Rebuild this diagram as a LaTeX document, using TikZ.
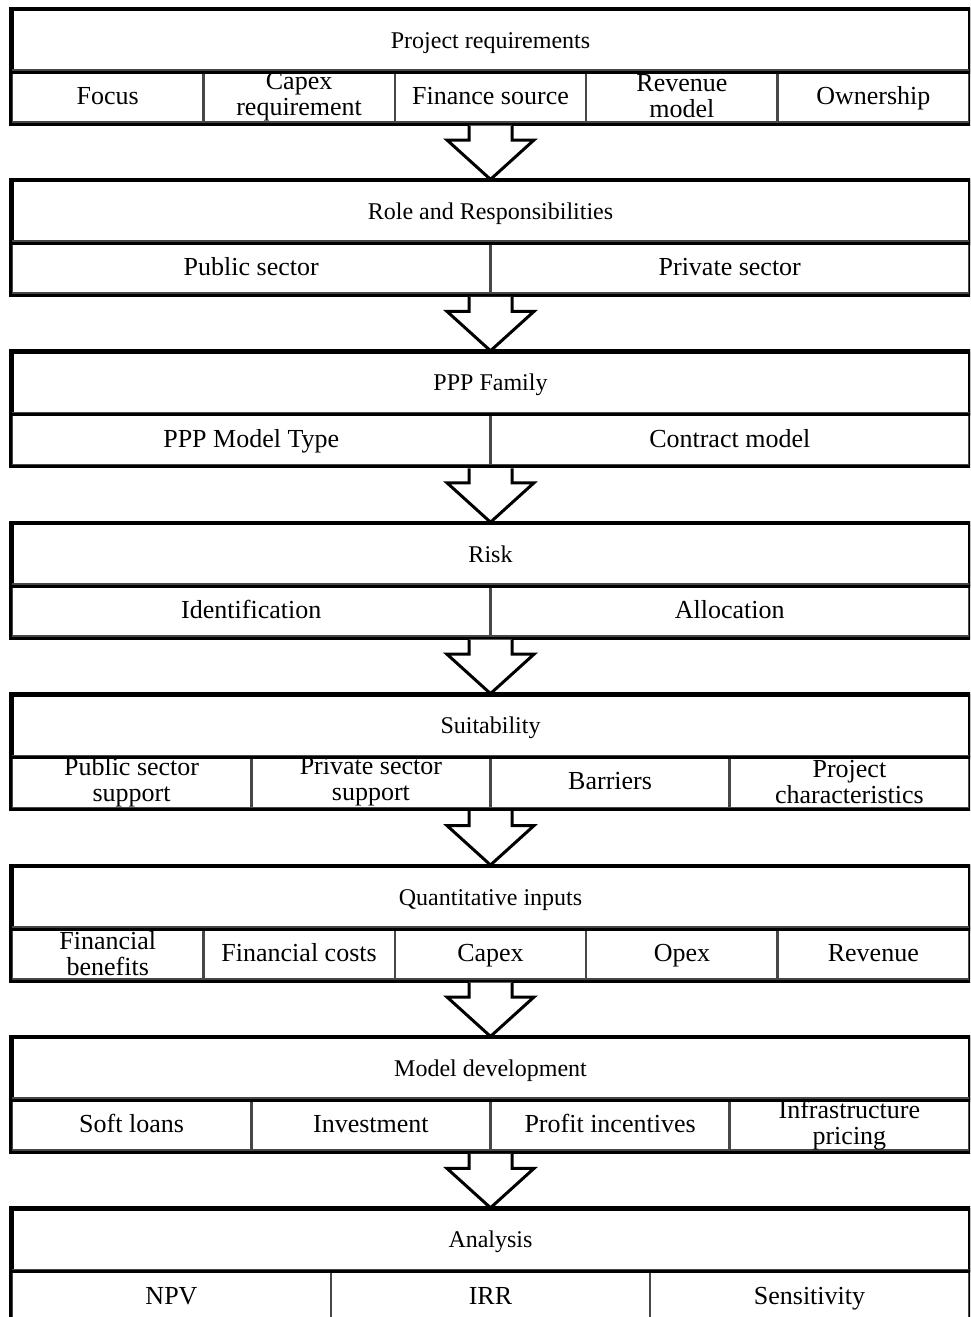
\documentclass[tikz,border=0pt]{standalone}
\usepackage{fontspec}
\setmainfont{Liberation Serif}
\usetikzlibrary{calc}
\tikzset{
  hdr/.style={draw=black, line width=3pt, minimum width=957pt, minimum height=61pt, inner sep=0pt, font=\fontsize{24}{26}\selectfont, text height=18.5pt, text depth=2.5pt, anchor=north},
  sub/.style={draw=black!72, line width=2.5pt, minimum height=52pt, inner sep=0pt, align=center, font=\fontsize{26}{26}\selectfont, anchor=north},
  one/.style={text height=20pt, text depth=4pt},
  w5/.style={minimum width=191.4pt},
  w4/.style={minimum width=239.25pt},
  w3/.style={minimum width=319pt},
  w2/.style={minimum width=478.5pt},
  framebox/.style={draw=black, line width=3pt},
  blockarrow/.style={draw=black, fill=white, line width=3pt, line join=miter}
}
\begin{document}
\begin{tikzpicture}[x=1pt,y=-1pt]
\useasboundingbox (0,0) rectangle (970,1317);
\clip (0,0) rectangle (970,1317);
\fill[white] (0,0) rectangle (970,1317);

% Block 1
\node[hdr] (h1) at (490.5,8) {Project requirements};
\node[sub,w5,one] (s1a) at (107.7,69) {Focus};
\node[sub,w5] (s1b) at (299.1,69) {Capex\\requirement};
\node[sub,w5,one] (s1c) at (490.5,69) {Finance source};
\node[sub,w5] (s1d) at (681.9,69) {Revenue\\model};
\node[sub,w5,one] (s1e) at (873.3,69) {Ownership};
\draw[framebox] (h1.north west) rectangle ($(h1.south east)+(0,52)$);
\draw[line width=3pt] (h1.south west) -- (h1.south east);

% Block 2
\node[hdr] (h2) at (490.5,179.4) {Role and Responsibilities};
\node[sub,w2,one] (s2a) at (251.25,240.4) {Public sector};
\node[sub,w2,one] (s2b) at (729.75,240.4) {Private sector};
\draw[framebox] (h2.north west) rectangle ($(h2.south east)+(0,52)$);
\draw[line width=3pt] (h2.south west) -- (h2.south east);

% Block 3
\node[hdr] (h3) at (490.5,350.8) {PPP Family};
\node[sub,w2,one] (s3a) at (251.25,411.8) {PPP Model Type};
\node[sub,w2,one] (s3b) at (729.75,411.8) {Contract model};
\draw[framebox] (h3.north west) rectangle ($(h3.south east)+(0,52)$);
\draw[line width=3pt] (h3.south west) -- (h3.south east);

% Block 4
\node[hdr] (h4) at (490.5,522.2) {Risk};
\node[sub,w2,one] (s4a) at (251.25,583.2) {Identification};
\node[sub,w2,one] (s4b) at (729.75,583.2) {Allocation};
\draw[framebox] (h4.north west) rectangle ($(h4.south east)+(0,52)$);
\draw[line width=3pt] (h4.south west) -- (h4.south east);

% Block 5
\node[hdr] (h5) at (490.5,693.6) {Suitability};
\node[sub,w4] (s5a) at (131.6,754.6) {Public sector\\support};
\node[sub,w4] (s5b) at (370.9,754.6) {Private sector\\support};
\node[sub,w4,one] (s5c) at (610.1,754.6) {Barriers};
\node[sub,w4] (s5d) at (849.4,754.6) {Project\\characteristics};
\draw[framebox] (h5.north west) rectangle ($(h5.south east)+(0,52)$);
\draw[line width=3pt] (h5.south west) -- (h5.south east);

% Block 6
\node[hdr] (h6) at (490.5,865) {Quantitative inputs};
\node[sub,w5] (s6a) at (107.7,926) {Financial\\benefits};
\node[sub,w5,one] (s6b) at (299.1,926) {Financial costs};
\node[sub,w5,one] (s6c) at (490.5,926) {Capex};
\node[sub,w5,one] (s6d) at (681.9,926) {Opex};
\node[sub,w5,one] (s6e) at (873.3,926) {Revenue};
\draw[framebox] (h6.north west) rectangle ($(h6.south east)+(0,52)$);
\draw[line width=3pt] (h6.south west) -- (h6.south east);

% Block 7
\node[hdr] (h7) at (490.5,1036.4) {Model development};
\node[sub,w4,one] (s7a) at (131.6,1097.4) {Soft loans};
\node[sub,w4,one] (s7b) at (370.9,1097.4) {Investment};
\node[sub,w4,one] (s7c) at (610.1,1097.4) {Profit incentives};
\node[sub,w4] (s7d) at (849.4,1097.4) {Infrastructure\\pricing};
\draw[framebox] (h7.north west) rectangle ($(h7.south east)+(0,52)$);
\draw[line width=3pt] (h7.south west) -- (h7.south east);

% Block 8
\node[hdr] (h8) at (490.5,1207.8) {Analysis};
\node[sub,w3,one] (s8a) at (171.5,1268.8) {NPV};
\node[sub,w3,one] (s8b) at (490.5,1268.8) {IRR};
\node[sub,w3,one] (s8c) at (809.5,1268.8) {Sensitivity};
\draw[framebox] (h8.north west) rectangle ($(h8.south east)+(0,52)$);
\draw[line width=3pt] (h8.south west) -- (h8.south east);

% Block arrows
\foreach \a/\b in {h1/h2,h2/h3,h3/h4,h4/h5,h5/h6,h6/h7,h7/h8}{
  \draw[blockarrow] let \p1=($(\a.south)+(0,53.5)$), \p2=(\b.north) in
    (\x1-21.5pt,\y1) -- (\x1-21.5pt,\y1-14.5pt) -- (\x1-43.5pt,\y1-14.5pt) -- (\x2,\y2)
    -- (\x1+43.5pt,\y1-14.5pt) -- (\x1+21.5pt,\y1-14.5pt) -- (\x1+21.5pt,\y1);
}
\end{tikzpicture}
\end{document}
